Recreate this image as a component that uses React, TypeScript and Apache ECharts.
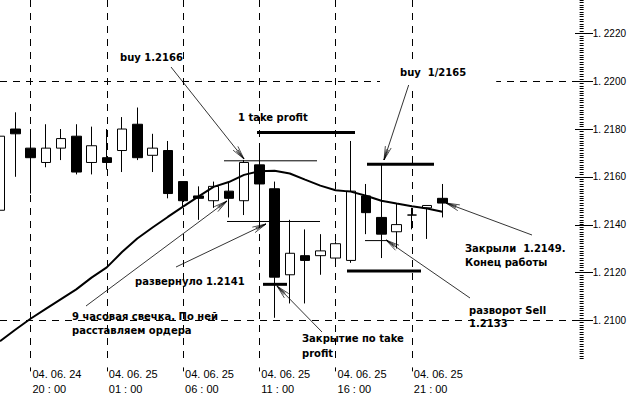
import React, { useEffect, useRef } from 'react';
import * as echarts from 'echarts';

// hourly categories, starting 04.06.24 18:00
const categories = [
  '04. 06. 24\n18 : 00', '04. 06. 24\n19 : 00', '04. 06. 24\n20 : 00', '04. 06. 24\n21 : 00',
  '04. 06. 24\n22 : 00', '04. 06. 24\n23 : 00', '04. 06. 25\n00 : 00', '04. 06. 25\n01 : 00',
  '04. 06. 25\n02 : 00', '04. 06. 25\n03 : 00', '04. 06. 25\n04 : 00', '04. 06. 25\n05 : 00',
  '04. 06. 25\n06 : 00', '04. 06. 25\n07 : 00', '04. 06. 25\n08 : 00', '04. 06. 25\n09 : 00',
  '04. 06. 25\n10 : 00', '04. 06. 25\n11 : 00', '04. 06. 25\n12 : 00', '04. 06. 25\n13 : 00',
  '04. 06. 25\n14 : 00', '04. 06. 25\n15 : 00', '04. 06. 25\n16 : 00', '04. 06. 25\n17 : 00',
  '04. 06. 25\n18 : 00', '04. 06. 25\n19 : 00', '04. 06. 25\n20 : 00', '04. 06. 25\n21 : 00',
  '04. 06. 25\n22 : 00', '04. 06. 25\n23 : 00', '04. 06. 26\n00 : 00', '04. 06. 26\n01 : 00',
  '04. 06. 26\n02 : 00', '04. 06. 26\n03 : 00', '04. 06. 26\n04 : 00', '04. 06. 26\n05 : 00',
  '04. 06. 26\n06 : 00', '04. 06. 26\n07 : 00', '04. 06. 26\n08 : 00',
];

const opens = [1.2146, 1.2180, 1.2172, 1.2166, 1.2172, 1.2177, 1.2166, 1.2168, 1.2171, 1.2182,
  1.2169, 1.2171, 1.2158, 1.2152, 1.2150, 1.2154, 1.2150, 1.2165, 1.2155, 1.2119,
  1.2127, 1.2127, 1.2126, 1.2125, 1.2152, 1.2143, 1.2137, 1.2144, 1.2147, 1.2151];
const closes = [1.2177, 1.2178, 1.2168, 1.2172, 1.2176, 1.2162, 1.2173, 1.2166, 1.2180, 1.2168,
  1.2172, 1.2153, 1.2150, 1.2151, 1.2156, 1.2151, 1.2166, 1.2157, 1.2118, 1.2128,
  1.2125, 1.2129, 1.2132, 1.2154, 1.2145, 1.2136, 1.2140, 1.2144, 1.2148, 1.2149];
const lows = [1.2144, 1.2160, 1.2153, 1.2164, 1.2167, 1.2161, 1.2161, 1.2163, 1.2162, 1.2167,
  1.2162, 1.2151, 1.2147, 1.2142, 1.2147, 1.2143, 1.2144, 1.2140, 1.2101, 1.2107,
  1.2107, 1.2119, 1.2124, 1.2124, 1.2136, 1.2126, 1.2130, 1.2138, 1.2134, 1.2143];
const highs = [1.2179, 1.2187, 1.2180, 1.2182, 1.2180, 1.2182, 1.2181, 1.2180, 1.2185, 1.2189,
  1.2178, 1.2175, 1.2158, 1.2156, 1.2158, 1.2158, 1.2167, 1.2173, 1.2158, 1.2142,
  1.2138, 1.2136, 1.2133, 1.2175, 1.2157, 1.2165, 1.2149, 1.2147, 1.2148, 1.2157];

const movingAverage = [1.20912, 1.20960, 1.21006, 1.21047, 1.21088, 1.21129, 1.21178, 1.21221,
  1.21285, 1.21342, 1.21388, 1.21432, 1.21475, 1.21517, 1.21558, 1.21578, 1.21608, 1.21623,
  1.21625, 1.21614, 1.21588, 1.21563, 1.21544, 1.21538, 1.21521, 1.21500, 1.21488, 1.21477,
  1.21467, 1.21454];

const priceTicks = [1.2100, 1.2120, 1.2140, 1.2160, 1.2180, 1.2200, 1.2220];

// annotation level lines: price, pixel x range, thickness
const levelPrices = [1.21667, 1.21785, 1.21413, 1.21150, 1.21653, 1.21333, 1.21206];
const levelX1 = [224, 257, 227, 263, 367, 365, 347];
const levelX2 = [317, 355, 320, 287, 434, 388, 421];
const levelW = [1, 3, 1, 3, 3, 1, 3];

const labelTexts = [
  'buy 1.2166', '1 take profit', 'buy  1/2165', 'развернуло 1.2141',
  '9 часовая свечка. По ней\nрасставляем ордера', 'Закрытие по take\nprofit',
  'Закрыли  1.2149.\nКонец работы', 'разворот Sell\n1.2133',
];

const labelInterval = (i: number) => i % 5 === 2 && i <= 27;

export default function App() {
  const ref = useRef<HTMLDivElement>(null);
  useEffect(() => {
    if (!ref.current) return;
    const chart = echarts.init(ref.current, undefined, { renderer: 'svg' });
    const candleData = opens.map((o, i) => [o, closes[i], lows[i], highs[i]]);
    const dash = [7, 6];
    chart.setOption({
      animation: false,
      backgroundColor: '#ffffff',
      grid: { left: -1, right: 46, top: -1.6, bottom: 38.6, containLabel: false },
      xAxis: [
        {
          type: 'category', data: categories, boundaryGap: false,
          axisLine: { show: false }, axisTick: { show: false },
          axisLabel: {
            interval: labelInterval, align: 'left', margin: 8, padding: [0, 0, 0, 2],
            fontFamily: 'Liberation Sans', fontSize: 11, color: '#000', lineHeight: 15,
          },
          splitLine: { show: true, interval: labelInterval, lineStyle: { color: '#000', type: dash, width: 1 } },
        },
        {
          type: 'category', data: categories, boundaryGap: false, position: 'bottom', offset: 9,
          axisLine: { show: false },
          axisTick: { show: true, interval: labelInterval, length: 4, lineStyle: { color: '#000' } },
          axisLabel: { show: false }, splitLine: { show: false },
        },
      ],
      yAxis: {
        type: 'value', position: 'right', min: 1.2084, max: 1.2234, interval: 0.0001,
        axisLine: { show: false },
        axisTick: { show: true, length: 4, lineStyle: { color: '#000' } },
        axisLabel: {
          margin: 13, fontSize: 10, color: '#000', fontFamily: 'Liberation Sans',
          formatter: (v: number) => (Math.round(v * 10000) % 20 === 0 ? v.toFixed(4).replace('.', '. ') : ''),
        },
        splitLine: { show: false },
      },
      series: [
        {
          type: 'line', data: [], symbol: 'none', z: 1,
          markLine: {
            silent: true, symbol: ['none', 'none'], z: 1, label: { show: false },
            lineStyle: { color: '#000', type: dash, width: 1 },
            data: priceTicks.map((v) => ({ yAxis: v })),
          },
        },
        {
          type: 'candlestick', data: candleData, barWidth: 10, z: 3,
          itemStyle: { color: '#ffffff', color0: '#000000', borderColor: '#000000', borderColor0: '#000000', borderWidth: 1 },
        },
        {
          type: 'line', data: movingAverage, symbol: 'none', z: 4,
          lineStyle: { color: '#000', width: 2 },
        },
      ],
    });

    const py = (v: number) => chart.convertToPixel({ yAxisIndex: 0 }, v) as number;
    const els: any[] = [];
    // major axis ticks
    priceTicks.forEach((v) => {
      const y = Math.round(py(v)) + 0.5;
      els.push({ type: 'line', z: 10, shape: { x1: 575, y1: y, x2: 593, y2: y }, style: { stroke: '#000', lineWidth: 1 } });
    });
    // level lines
    levelPrices.forEach((p, i) => {
      const y = py(p);
      els.push({ type: 'line', z: 10, shape: { x1: levelX1[i], y1: y, x2: levelX2[i], y2: y }, style: { stroke: '#000', lineWidth: levelW[i] } });
    });
    // arrows
    const arrow = (x1: number, y1: number, x2: number, y2: number) => {
      const ang = Math.atan2(y1 - y2, x1 - x2);
      els.push({ type: 'line', z: 10, shape: { x1, y1, x2, y2 }, style: { stroke: '#000', lineWidth: 0.8 } });
      [[0.22, 14], [-0.22, 14], [0.1, 11], [-0.1, 11]].forEach(([a, L]) => {
        els.push({ type: 'line', z: 10, shape: { x1: x2, y1: y2, x2: x2 + L * Math.cos(ang + a), y2: y2 + L * Math.sin(ang + a) }, style: { stroke: '#000', lineWidth: 0.7 } });
      });
    };
    arrow(171, 67, 244, 159);
    arrow(86, 306, 227, 201);
    arrow(176, 267, 266, 224);
    arrow(322, 332, 277, 286);
    arrow(409, 84, 384, 160);
    arrow(532, 235, 446, 203);
    arrow(470, 298, 386, 240);

    const font = 'bold 10px "DejaVu Sans"';
    const txt = (t: string, x: number, y: number, lh: number, bg?: boolean) => {
      els.push({
        type: 'text', z: 11, x, y,
        style: {
          text: t, font, fill: '#000', align: 'left', verticalAlign: 'top', lineHeight: lh,
          ...(bg ? { backgroundColor: '#fff', padding: [6, 30, 6, 20] } : {}),
        },
      });
    };
    txt(labelTexts[0], 120, 51, 13);
    txt(labelTexts[1], 238, 111, 13);
    txt(labelTexts[2], 380, 60, 13, true);
    txt(labelTexts[3], 135, 275, 13);
    txt(labelTexts[4], 72, 309, 14);
    txt(labelTexts[5], 302, 331, 15);
    txt(labelTexts[6], 465, 241, 14);
    txt(labelTexts[7], 469, 304, 13);

    chart.setOption({ graphic: { elements: els } });
    return () => chart.dispose();
  }, []);
  return <div ref={ref} style={{ position: 'fixed', left: 0, top: 0, width: 629, height: 397, background: '#fff' }} />;
}
